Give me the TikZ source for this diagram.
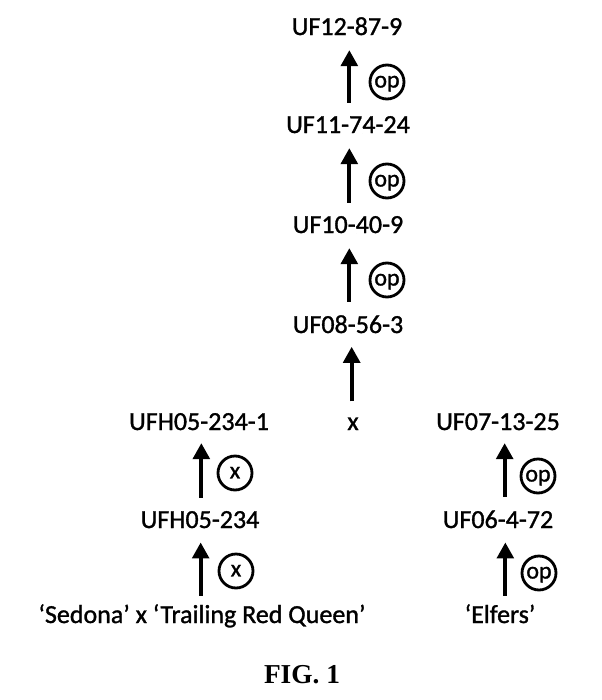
\documentclass[tikz,border=0pt]{standalone}
\usepackage{fontspec}
\setmainfont{Carlito}
\newfontfamily\labelfont[FakeBold=1.2]{Carlito}
\newfontfamily\figfont{Liberation Serif}
\usetikzlibrary{arrows.meta}

\begin{document}
\begin{tikzpicture}[x=0.75pt,y=0.75pt,yscale=-1,
  line/.style={font=\labelfont\fontsize{19.5}{22}\selectfont, inner sep=0pt, anchor=base},
  gen/.style={-{Triangle[length=12pt,width=12.5pt]}, line width=2.8pt, shorten <=10pt, shorten >=11pt},
  mark op/.style={circle, draw, line width=2.1pt, minimum size=25.5pt, inner sep=0pt, text depth=0.5pt, font=\labelfont\fontsize{18}{18}\selectfont}]
\useasboundingbox (0,0) rectangle (602,700);

% Text Node
\node[line] (uf12) at (347,35) {UF12-87-9};
\node[line] (uf11) at (348,133) {UF11-74-24};
\node[line] (uf10) at (348,233) {UF10-40-9};
\node[line] (uf08) at (348,333) {UF08-56-3};
% Text Node
\node[line] (ufh1) at (199,430) {UFH05-234-1};
\node[line] (cross) at (353,430) {x};
\node[line] (uf07) at (498,430) {UF07-13-25};
\node[line] (ufh) at (200,528) {UFH05-234};
\node[line] (uf06) at (498,528) {UF06-4-72};
\node[line] (sedona) at (202,623) {‘Sedona’ x ‘Trailing Red Queen’};
\node[line] (elfers) at (500,623) {‘Elfers’};

% Arrows
\draw[gen] ([xshift=1pt]uf11.north) -- ([xshift=1pt]uf11.north |- uf12.south);
\draw[gen] ([xshift=1pt]uf10.north) -- ([xshift=1pt]uf10.north |- uf11.south);
\draw[gen] ([xshift=1pt]uf08.north) -- ([xshift=1pt]uf08.north |- uf10.south);
\draw[gen, shorten <=12pt, shorten >=10pt] ([xshift=-1pt]cross.north) -- ([xshift=-1pt]cross.north |- uf08.south);
\draw[gen, shorten >=9.5pt] ([xshift=1pt]ufh.north) -- ([xshift=1pt]ufh.north |- ufh1.south);
\draw[gen, shorten <=6pt, shorten >=10.5pt] ([xshift=-1pt]sedona.north) -- ([xshift=-1pt]sedona.north |- ufh.south);
\draw[gen, shorten >=9.5pt] ([xshift=5pt]uf06.north) -- ([xshift=5pt]uf06.north |- uf07.south);
\draw[gen, shorten <=6pt, shorten >=10.5pt] ([xshift=4pt]elfers.north) -- ([xshift=4pt]elfers.north |- uf06.south);

% Circles
\node[mark op] (op1) at (387,82) {op};
\node[mark op] (op2) at (387,181) {op};
\node[mark op] (op3) at (387,280) {op};
\node[mark op] (x1) at (235,473) {x};
\node[mark op] (x2) at (236,571) {x};
\node[mark op] (op4) at (538,476) {op};
\node[mark op] (op5) at (539,573) {op};

% Caption
\node[font=\figfont\bfseries\fontsize{20.5}{22}\selectfont, inner sep=0pt, anchor=base] (fig) at (302,683) {FIG. 1};
\end{tikzpicture}
\end{document}
